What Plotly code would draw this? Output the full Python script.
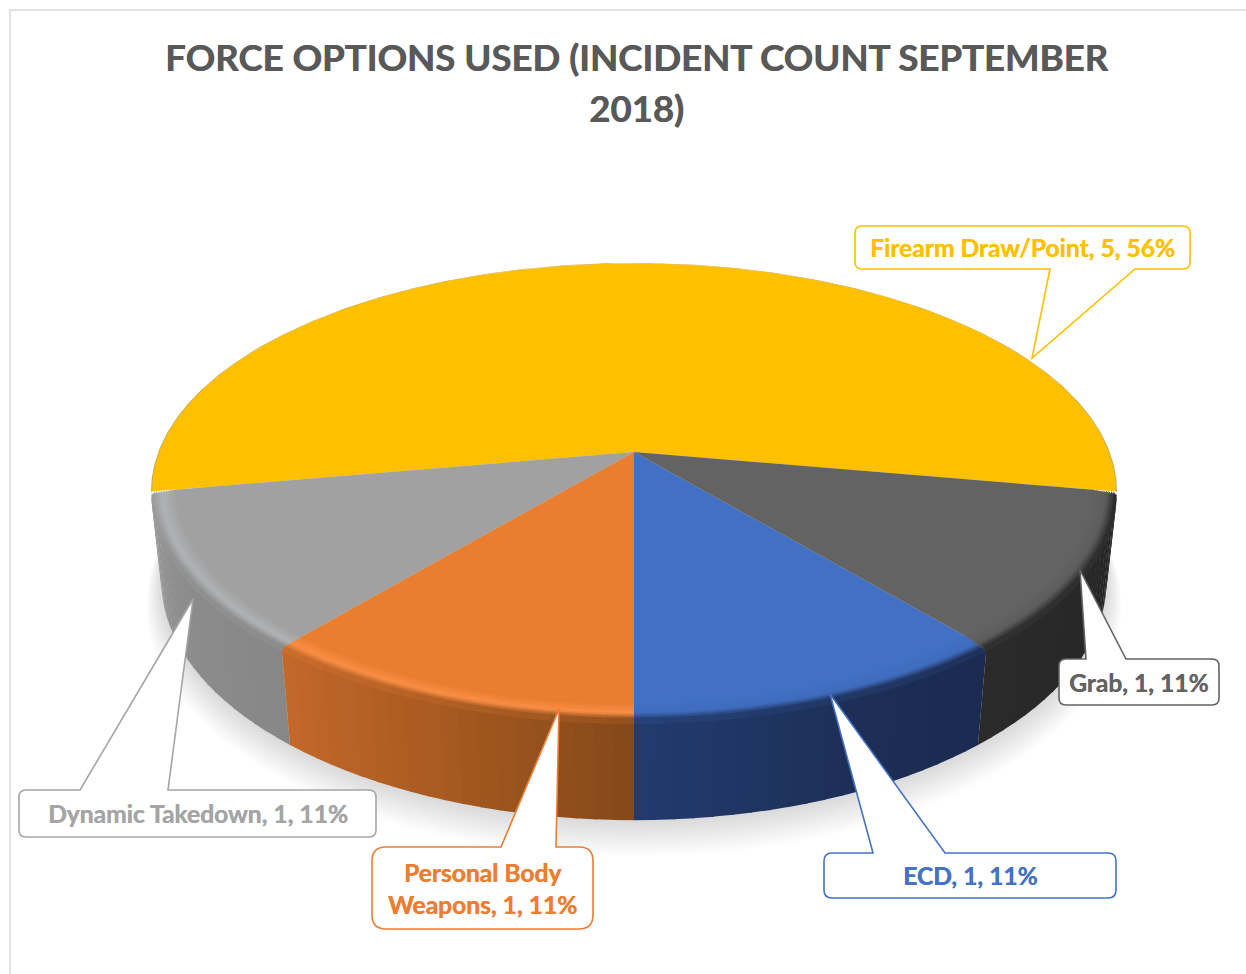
import numpy as np
import plotly.graph_objects as go

# ---- data -------------------------------------------------------------
categories = ["Firearm Draw/Point", "Dynamic Takedown", "Personal Body<br>Weapons", "ECD", "Grab"]
values = [5, 1, 1, 1, 1]
title_lines = ["FORCE OPTIONS USED (INCIDENT COUNT SEPTEMBER", "2018)"]

# ---- style ------------------------------------------------------------
face_colors = ["#FFC000", "#A1A1A1", "#E97D30", "#4170C4", "#636363"]
label_colors = ["#FFC000", "#A5A5A5", "#ED7D31", "#4472C4", "#636363"]
high_colors = ["#FFC000", "#B0B2B4", "#F98E45", "#3F6CBB", "#5E5E5E"]
side_stops = [
    ["#A89A60", "#A89A60"],
    ["#9B9B9B", "#8C8C8C", "#878787"],
    ["#C4682A", "#A85A20", "#84481A"],
    ["#223C70", "#1E3059", "#1A2A50"],
    ["#2A2A2A", "#262626"],
]
FIRST_ANGLE = 80.0   # degrees, measured from the front of the pie
CX, CY = 634.0, 452.0
A, B, K = 475.7, 221.7, 0.1729
H, M = 90.7, 0.0215


def project(t, r=1.0, z=0.0):
    u, v = r * np.sin(t), r * np.cos(t)
    w = 1 - K * v + M * z
    return CX + A * u / w, CY + (B * v + H * z) / w


def rgb(c):
    return np.array([int(c[i:i + 2], 16) for i in (1, 3, 5)], float)


def mix(a, b, f):
    x = rgb(a) * (1 - f) + rgb(b) * f
    return "#%02X%02X%02X" % tuple(int(round(q)) for q in x)


def ramp(stops, f):
    p = f * (len(stops) - 1)
    i = min(int(p), len(stops) - 2)
    return mix(stops[i], stops[i + 1], p - i)


fig = go.Figure()


def poly(xs, ys, color):
    fig.add_trace(go.Scatter(
        x=np.round(xs, 2), y=np.round(ys, 2), mode="lines", fill="toself", fillcolor=color,
        line=dict(color=color, width=0),
        hoverinfo="skip", showlegend=False))


# soft shadow under the disc
tt = np.radians(np.linspace(0, 360, 181))
for i in range(12, 0, -1):
    sx, sy = project(tt, 1.0 + 0.003 * i, 1.0 + 0.02 * i)
    poly(sx, sy, "rgba(90,90,90,0.021)")

total = sum(values)
shares = [v / total for v in values]
edges = FIRST_ANGLE + np.cumsum([0] + [s * 360 for s in shares])
LAP = 0.004  # radians of overlap between neighbouring strips

# side wall
for i in range(1, len(values)):
    n = 20
    grid = np.radians(np.linspace(edges[i], edges[i + 1], n + 1))
    for j in range(n):
        end = grid[j + 1] + (LAP if j < n - 1 else 0)
        arc = np.linspace(grid[j], end, 4)
        x1, y1 = project(arc, 1.0, 0.0)
        x2, y2 = project(arc[::-1], 1.0, 1.0)
        poly(np.r_[x1, x2], np.r_[y1, y2], ramp(side_stops[i], (j + 0.5) / n))

# top faces
R0, R1, Z1 = 0.95, 1.0, 0.04
RINGS = 10
SPLIT = 0.6
for i in range(len(values)):
    arc = np.radians(np.linspace(edges[i], edges[i + 1], max(8, int((edges[i + 1] - edges[i]) * 2))))
    x, y = project(arc, 0.998 if i == 0 else R0 + 0.003, 0.0)
    poly(np.r_[CX, x], np.r_[CY, y], face_colors[i])


def band(arc, f0, f1, col):
    x1, y1 = project(arc, R0 + (R1 - R0) * f0 - 0.002, 0.0)
    x2, y2 = project(arc[::-1], R0 + (R1 - R0) * f1, Z1 * f1)
    poly(np.r_[x1, x2], np.r_[y1, y2], col)


# hairline on the back of the disc
arc = np.radians(np.linspace(edges[0], edges[1], 400))
x1, y1 = project(arc, 0.9975, 0.0)
x2, y2 = project(arc[::-1], 1.0, 0.0)
poly(np.r_[x1, x2], np.r_[y1, y2], mix(face_colors[0], side_stops[0][0], 0.6))

# bevelled rim of the four front slices
for i in range(1, len(values)):
    whole = np.radians(np.linspace(edges[i], edges[i + 1], 60))
    for k in range(RINGS):
        f0, f1 = k / RINGS, (k + 1) / RINGS
        fm = (f0 + f1) / 2
        if fm < SPLIT:
            band(whole, f0, f1, mix(face_colors[i], high_colors[i], fm / SPLIT))
            continue
        n = 14
        grid = np.radians(np.linspace(edges[i], edges[i + 1], n + 1))
        for j in range(n):
            end = grid[j + 1] + (LAP if j < n - 1 else 0)
            edge = ramp(side_stops[i], (j + 0.5) / n)
            band(np.linspace(grid[j], end, 5), f0, f1, mix(high_colors[i], edge, (fm - SPLIT) / (1 - SPLIT)))


# ---- callouts ---------------------------------------------------------
def callout(box, tail, color, rad=6):
    x0, y0, x1, y1 = box
    side = "top" if tail[1][1] < y0 else "bottom"
    p = [f"M{x0 + rad},{y0}"]
    if side == "top":
        p += [f"L{tail[0][0]},{y0}", f"L{tail[1][0]},{tail[1][1]}", f"L{tail[2][0]},{y0}"]
    p += [f"L{x1 - rad},{y0}", f"Q{x1},{y0} {x1},{y0 + rad}", f"L{x1},{y1 - rad}",
          f"Q{x1},{y1} {x1 - rad},{y1}"]
    if side == "bottom":
        p += [f"L{tail[2][0]},{y1}", f"L{tail[1][0]},{tail[1][1]}", f"L{tail[0][0]},{y1}"]
    p += [f"L{x0 + rad},{y1}", f"Q{x0},{y1} {x0},{y1 - rad}", f"L{x0},{y0 + rad}",
          f"Q{x0},{y0} {x0 + rad},{y0}", "Z"]
    return dict(type="path", path=" ".join(p), fillcolor="white",
                line=dict(color=color, width=1.6), layer="above", xref="x", yref="y")


boxes = [(855, 226, 1190, 269), (19, 790, 376, 837), (372, 847, 593, 929),
         (824, 853, 1116, 898), (1059, 659, 1219, 705)]
tails = [[(1050, 269), (1032, 358), (1135, 269)],
         [(80, 790), (193, 599), (168, 790)],
         [(501, 847), (559, 709), (556, 847)],
         [(873, 853), (830, 694), (945, 853)],
         [(1086, 659), (1080, 570), (1126, 659)]]
rads = [7, 7, 14, 8, 7]

shapes = [dict(type="rect", x0=10, y0=10, x1=1300, y1=1000, line=dict(color="#D9D9D9", width=1.5),
               fillcolor="rgba(0,0,0,0)", layer="below", xref="x", yref="y")]
annotations = []
for i, cat in enumerate(categories):
    shapes.append(callout(boxes[i], tails[i], label_colors[i], rads[i]))
    x0, y0, x1, y1 = boxes[i]
    annotations.append(dict(
        x=(x0 + x1) / 2, y=(y0 + y1) / 2, xref="x", yref="y", showarrow=False,
        text=f"<b>{cat}, {values[i]}, {round(shares[i] * 100)}%</b>",
        font=dict(family="Lato", size=24.6, color=label_colors[i],
                  shadow=f"0.4px 0 0 {label_colors[i]}"), align="center"))

for line, y in zip(title_lines, (57, 108)):
    annotations.append(dict(
        x=636, y=y, xref="x", yref="y", showarrow=False, text=f"<b>{line}</b>",
        font=dict(family="Lato", size=36.6, color="#595959", shadow="0.6px 0 0 #595959"),
        align="center"))

fig.update_layout(
    width=1246, height=974, margin=dict(l=0, r=0, t=0, b=0),
    paper_bgcolor="white", plot_bgcolor="white", showlegend=False,
    xaxis=dict(range=[0, 1246], visible=False, fixedrange=True),
    yaxis=dict(range=[974, 0], visible=False, fixedrange=True),
    shapes=shapes, annotations=annotations)

fig.write_html("out.html", config={"displayModeBar": False},
               post_script="document.body.style.margin='0';document.body.style.overflow='hidden';")
